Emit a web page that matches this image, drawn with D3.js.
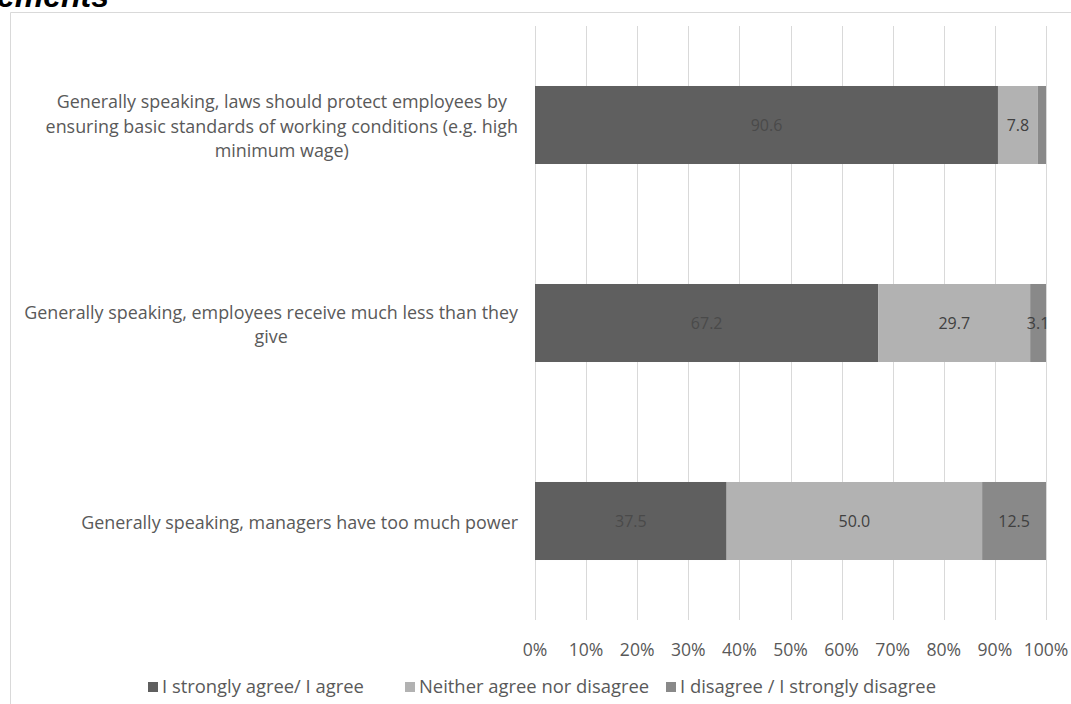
<!DOCTYPE html>
<html>
<head>
<meta charset="utf-8">
<script src="https://cdn.jsdelivr.net/npm/d3@7"></script>
<style>
  body { margin: 0; background: #fff; }
  svg { display: block; }
</style>
</head>
<body>
<svg id="chart"></svg>
<script>
const width = 1071;
const height = 704;

// statements, already split into the lines the original shows
const statements = [
    ["Generally speaking, laws should protect employees by",
     "ensuring basic standards of working conditions (e.g. high",
     "minimum wage)"],
    ["Generally speaking, employees receive much less than they",
     "give"],
    ["Generally speaking, managers have too much power"],
];
const seriesNames = ["I strongly agree/ I agree", "Neither agree nor disagree", "I disagree / I strongly disagree"];
const agree = [90.6, 67.2, 37.5];
const neither = [7.8, 29.7, 50.0];
const disagree = [1.6, 3.1, 12.5];
const showLabel = [[true, true, false], [true, true, true], [true, true, true]];
const ticks = [0, 10, 20, 30, 40, 50, 60, 70, 80, 90, 100];
const colors = ["#5f5f5f", "#b2b2b2", "#898989"];

const font = "Open Sans, sans-serif";
const fs = 17.6;
const svg = d3.select("#chart").attr("width", width).attr("height", height);

// clipped title from the page above
svg.append("text")
    .attr("x", -3)
    .attr("y", 7)
    .attr("font-family", "Liberation Sans, Arial, sans-serif")
    .attr("font-weight", "bold")
    .attr("font-style", "italic")
    .attr("font-size", 32)
    .attr("fill", "#000")
    .text("ements");

// chart frame (only top and left edges visible)
svg.append("path")
    .attr("d", "M10.5,704 V12.5 H1071")
    .attr("fill", "none")
    .attr("stroke", "#d9d9d9");

const x = d3.scaleLinear().domain([0, 100]).range([535, 1046]);
const y = d3.scaleBand().domain(d3.range(statements.length)).range([26, 620]).paddingInner(0.606).paddingOuter(0.303);

// grid
svg.append("g")
    .selectAll("line")
    .data(ticks)
    .join("line")
    .attr("x1", (d) => Math.round(x(d)) + 0.5)
    .attr("x2", (d) => Math.round(x(d)) + 0.5)
    .attr("y1", 26)
    .attr("y2", 620)
    .attr("stroke", "#d9d9d9");

const rows = statements.map((s, i) => [agree[i], neither[i], disagree[i]]);
const stacked = rows.map((r, i) => {
    let acc = 0;
    return r.map((v, k) => {
        const seg = { i, k, v, x0: acc, x1: acc + v, show: showLabel[i][k] };
        acc += v;
        return seg;
    });
}).flat();

const bars = svg.append("g");
bars.selectAll("rect")
    .data(stacked)
    .join("rect")
    .attr("x", (d) => x(d.x0))
    .attr("width", (d) => x(d.x1) - x(d.x0))
    .attr("y", (d) => y(d.i))
    .attr("height", y.bandwidth())
    .attr("fill", (d) => colors[d.k]);

bars.selectAll("text")
    .data(stacked.filter((d) => d.show))
    .join("text")
    .attr("x", (d) => x((d.x0 + d.x1) / 2))
    .attr("y", (d) => y(d.i) + y.bandwidth() / 2)
    .attr("dy", "0.35em")
    .attr("text-anchor", "middle")
    .attr("font-family", font)
    .attr("font-size", 16)
    .attr("fill", (d) => d.k === 0 ? "#4a4a4a" : "#404040")
    .text((d) => d.v.toFixed(1));

// x axis labels
svg.append("g")
    .selectAll("text")
    .data(ticks)
    .join("text")
    .attr("x", (d) => x(d))
    .attr("y", 650)
    .attr("dy", "0.35em")
    .attr("text-anchor", "middle")
    .attr("font-family", font)
    .attr("font-size", fs)
    .attr("fill", "#595959")
    .text((d) => d + "%");

// category labels: lines centred on each other, block right-aligned
const lineH = 24.5;
statements.forEach((lines, i) => {
    const g = svg.append("g");
    const cy = y(i) + y.bandwidth() / 2 + 1.5;
    const t = g.selectAll("text")
        .data(lines)
        .join("text")
        .attr("font-family", font)
        .attr("font-size", 17.9)
        .attr("fill", "#595959")
        .attr("text-anchor", "middle")
        .attr("dy", "0.35em")
        .attr("y", (d, j) => cy + (j - (lines.length - 1) / 2) * lineH)
        .text((d) => d);
    let w = 0;
    t.each(function () { w = Math.max(w, this.getComputedTextLength()); });
    t.attr("x", 518 - w / 2);
});

// legend
const legendX = [148, 405, 666];
const legend = svg.append("g")
    .selectAll("g")
    .data(seriesNames)
    .join("g")
    .attr("transform", (d, k) => `translate(${legendX[k]},687)`);
legend.append("rect")
    .attr("x", 0)
    .attr("y", -5)
    .attr("width", 10)
    .attr("height", 10)
    .attr("fill", (d, k) => colors[k]);
legend.append("text")
    .attr("x", 14)
    .attr("dy", "0.35em")
    .attr("font-family", font)
    .attr("font-size", 18.4)
    .attr("fill", "#595959")
    .text((d) => d);
</script>
</body>
</html>
